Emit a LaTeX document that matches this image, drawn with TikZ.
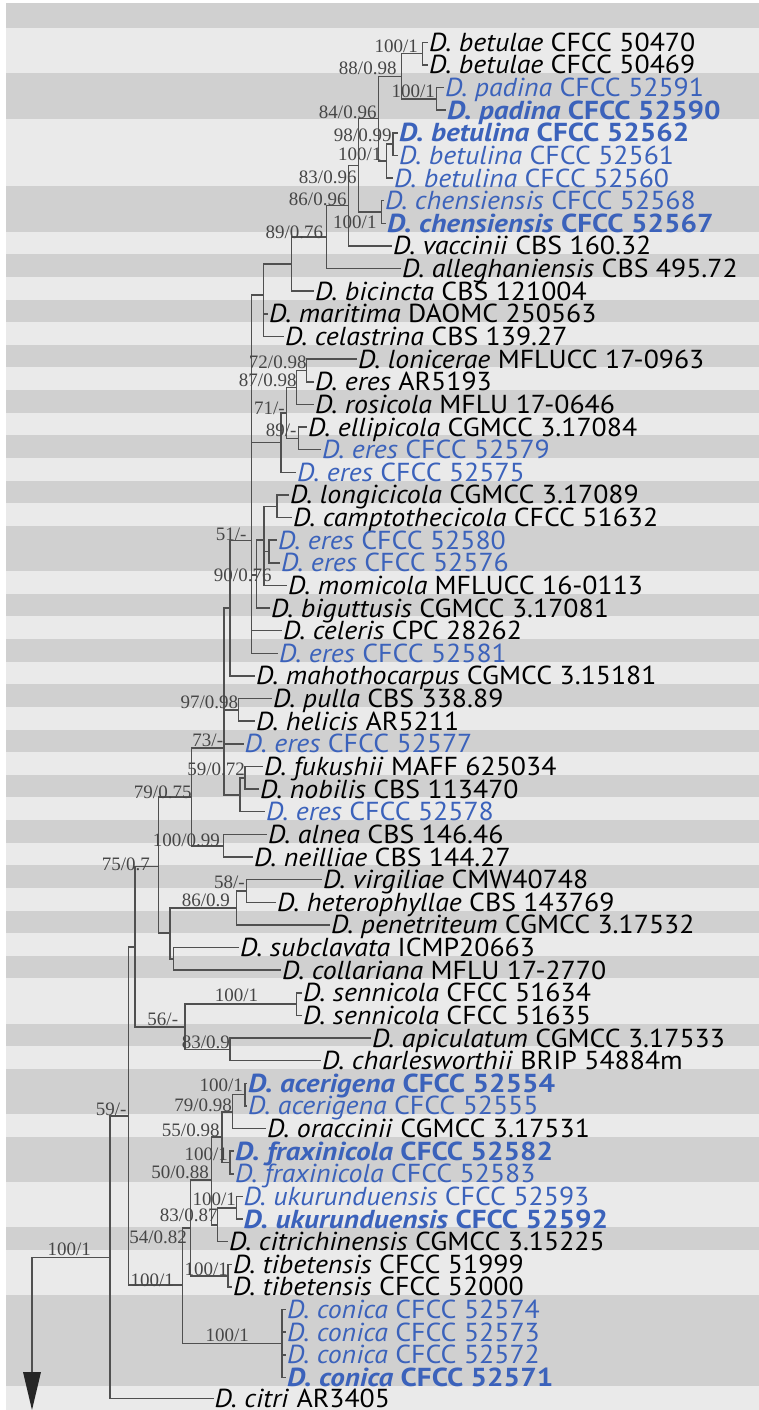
\documentclass[tikz,border=0pt]{standalone}
\usepackage{fontspec}
\setmainfont{PT Sans}[FakeStretch=1.07, BoldFeatures={FakeStretch=1.12}, BoldItalicFeatures={FakeStretch=1.12}]
\newfontfamily\lblfont{Liberation Serif}
\definecolor{stripeL}{RGB}{234,234,234}
\definecolor{stripeD}{RGB}{208,208,208}
\definecolor{txblue}{RGB}{59,98,187}
\definecolor{brc}{RGB}{80,80,80}
\definecolor{lblc}{RGB}{70,70,70}
\newcommand\tn[2]{\textit{#1} #2}
\newcommand\tb[2]{\textbf{\textit{#1} #2}}
\def\ry#1{(31+22.63*(#1-0.5))}
\tikzset{
  tip/.style={anchor=west, inner xsep=1pt, inner ysep=0pt, text height=18pt, text depth=0pt, font=\fontsize{26}{26}\selectfont, text=black},
  tipblue/.style={tip, text=txblue},
  lbl/.style={anchor=base east, inner sep=0pt, font=\lblfont\fontsize{19}{19}\selectfont, text=lblc},
  br/.style={draw=brc, line width=1.5pt}
}
\begin{document}
\begin{tikzpicture}[x=1pt,y=-1pt]
\useasboundingbox (0,0) rectangle (759,1410);
% background stripes
\fill[white] (0,0) rectangle (759,1410);
\fill[stripeL] (6,3) rectangle (759,1410);
\fill[stripeD] (6,3) rectangle (759,28);
\foreach \i in {3,4,8,9,11,13,15,17,19,21,23,24,26,28,30,32,34,36,38,40,42,45,47,48,50,51,54,57,58,59,60}
  \fill[stripeD] (6,{28+22.63*(\i-1)}) rectangle (759,{28+22.63*\i});

% tips
\node[tip] (t1) at (428,{\ry{1}}) {\tn{D. betulae}{CFCC 50470}};
\node[tip] (t2) at (428,{\ry{2}}) {\tn{D. betulae}{CFCC 50469}};
\node[tipblue] (t3) at (444,{\ry{3}}) {\tn{D. padina}{CFCC 52591}};
\node[tipblue] (t4) at (446,{\ry{4}}) {\tb{D. padina}{CFCC 52590}};
\node[tipblue] (t5) at (398,{\ry{5}}) {\tb{D. betulina}{CFCC 52562}};
\node[tipblue] (t6) at (398,{\ry{6}}) {\tn{D. betulina}{CFCC 52561}};
\node[tipblue] (t7) at (393,{\ry{7}}) {\tn{D. betulina}{CFCC 52560}};
\node[tipblue] (t8) at (384,{\ry{8}}) {\tn{D. chensiensis}{CFCC 52568}};
\node[tipblue] (t9) at (386,{\ry{9}}) {\tb{D. chensiensis}{CFCC 52567}};
\node[tip] (t10) at (392,{\ry{10}}) {\tn{D. vaccinii}{CBS 160.32}};
\node[tip] (t11) at (401,{\ry{11}}) {\tn{D. alleghaniensis}{CBS 495.72}};
\node[tip] (t12) at (314,{\ry{12}}) {\tn{D. bicincta}{CBS 121004}};
\node[tip] (t13) at (268,{\ry{13}}) {\tn{D. maritima}{DAOMC 250563}};
\node[tip] (t14) at (284,{\ry{14}}) {\tn{D. celastrina}{CBS 139.27}};
\node[tip] (t15) at (357,{\ry{15}}) {\tn{D. lonicerae}{MFLUCC 17-0963}};
\node[tip] (t16) at (314,{\ry{16}}) {\tn{D. eres}{AR5193}};
\node[tip] (t17) at (314,{\ry{17}}) {\tn{D. rosicola}{MFLU 17-0646}};
\node[tip] (t18) at (307,{\ry{18}}) {\tn{D. ellipicola}{CGMCC 3.17084}};
\node[tipblue] (t19) at (321,{\ry{19}}) {\tn{D. eres}{CFCC 52579}};
\node[tipblue] (t20) at (296,{\ry{20}}) {\tn{D. eres}{CFCC 52575}};
\node[tip] (t21) at (289,{\ry{21}}) {\tn{D. longicicola}{CGMCC 3.17089}};
\node[tip] (t22) at (292,{\ry{22}}) {\tn{D. camptothecicola}{CFCC 51632}};
\node[tipblue] (t23) at (277,{\ry{23}}) {\tn{D. eres}{CFCC 52580}};
\node[tipblue] (t24) at (280,{\ry{24}}) {\tn{D. eres}{CFCC 52576}};
\node[tip] (t25) at (287,{\ry{25}}) {\tn{D. momicola}{MFLUCC 16-0113}};
\node[tip] (t26) at (270,{\ry{26}}) {\tn{D. biguttusis}{CGMCC 3.17081}};
\node[tip] (t27) at (282,{\ry{27}}) {\tn{D. celeris}{CPC 28262}};
\node[tipblue] (t28) at (278,{\ry{28}}) {\tn{D. eres}{CFCC 52581}};
\node[tip] (t29) at (255,{\ry{29}}) {\tn{D. mahothocarpus}{CGMCC 3.15181}};
\node[tip] (t30) at (272,{\ry{30}}) {\tn{D. pulla}{CBS 338.89}};
\node[tip] (t31) at (255,{\ry{31}}) {\tn{D. helicis}{AR5211}};
\node[tipblue] (t32) at (243.5,{\ry{32}}) {\tn{D. eres}{CFCC 52577}};
\node[tip] (t33) at (263,{\ry{33}}) {\tn{D. fukushii}{MAFF 625034}};
\node[tip] (t34) at (259,{\ry{34}}) {\tn{D. nobilis}{CBS 113470}};
\node[tipblue] (t35) at (265,{\ry{35}}) {\tn{D. eres}{CFCC 52578}};
\node[tip] (t36) at (267,{\ry{36}}) {\tn{D. alnea}{CBS 146.46}};
\node[tip] (t37) at (253,{\ry{37}}) {\tn{D. neilliae}{CBS 144.27}};
\node[tip] (t38) at (322,{\ry{38}}) {\tn{D. virgiliae}{CMW40748}};
\node[tip] (t39) at (276,{\ry{39}}) {\tn{D. heterophyllae}{CBS 143769}};
\node[tip] (t40) at (330,{\ry{40}}) {\tn{D. penetriteum}{CGMCC 3.17532}};
\node[tip] (t41) at (239,{\ry{41}}) {\tn{D. subclavata}{ICMP20663}};
\node[tip] (t42) at (281,{\ry{42}}) {\tn{D. collariana}{MFLU 17-2770}};
\node[tip] (t43) at (302,{\ry{43}}) {\tn{D. sennicola}{CFCC 51634}};
\node[tip] (t44) at (302,{\ry{44}}) {\tn{D. sennicola}{CFCC 51635}};
\node[tip] (t45) at (371,{\ry{45}}) {\tn{D. apiculatum}{CGMCC 3.17533}};
\node[tip] (t46) at (321,{\ry{46}}) {\tn{D. charlesworthii}{BRIP 54884m}};
\node[tipblue] (t47) at (247,{\ry{47}}) {\tb{D. acerigena}{CFCC 52554}};
\node[tipblue] (t48) at (247,{\ry{48}}) {\tn{D. acerigena}{CFCC 52555}};
\node[tip] (t49) at (266,{\ry{49}}) {\tn{D. oraccinii}{CGMCC 3.17531}};
\node[tipblue] (t50) at (234,{\ry{50}}) {\tb{D. fraxinicola}{CFCC 52582}};
\node[tipblue] (t51) at (234,{\ry{51}}) {\tn{D. fraxinicola}{CFCC 52583}};
\node[tipblue] (t52) at (242.5,{\ry{52}}) {\tn{D. ukurunduensis}{CFCC 52593}};
\node[tipblue] (t53) at (242.5,{\ry{53}}) {\tb{D. ukurunduensis}{CFCC 52592}};
\node[tip] (t54) at (228,{\ry{54}}) {\tn{D. citrichinensis}{CGMCC 3.15225}};
\node[tip] (t55) at (232,{\ry{55}}) {\tn{D. tibetensis}{CFCC 51999}};
\node[tip] (t56) at (232,{\ry{56}}) {\tn{D. tibetensis}{CFCC 52000}};
\node[tipblue] (t57) at (286,{\ry{57}}) {\tn{D. conica}{CFCC 52574}};
\node[tipblue] (t58) at (286,{\ry{58}}) {\tn{D. conica}{CFCC 52573}};
\node[tipblue] (t59) at (286,{\ry{59}}) {\tn{D. conica}{CFCC 52572}};
\node[tipblue] (t60) at (286,{\ry{60}}) {\tb{D. conica}{CFCC 52571}};
\node[tip] (t61) at (213.5,{\ry{61}-1.5}) {\tn{D. citri}{AR3405}};

% internal nodes
\coordinate (n1) at (422.7,53.7);
\coordinate (n2) at (436.7,98.9);
\coordinate (n3) at (401.7,76.3);
\coordinate (n6) at (393,144.2);
\coordinate (n5) at (386.7,161.1);
\coordinate (n4) at (378.3,118.7);
\coordinate (n7) at (381.7,212);
\coordinate (n8) at (358.3,165.4);
\coordinate (n9) at (348.3,205.7);
\coordinate (n10) at (326.7,237.2);
\coordinate (n11) at (291.7,264.2);
\coordinate (n12) at (263.3,295);
\coordinate (n14) at (306.7,370.5);
\coordinate (n15) at (296.7,387.5);
\coordinate (n17) at (298.3,438.4);
\coordinate (n16) at (286.7,413);
\coordinate (n18) at (281,442.7);
\coordinate (n19) at (277,506.3);
\coordinate (n22) at (269,551.5);
\coordinate (n21) at (264,540);
\coordinate (n24) at (256.7,575);
\coordinate (n26) at (251.5,540.7);
\coordinate (n27) at (230,608);
\coordinate (n28) at (238.3,710);
\coordinate (n29) at (245,778);
\coordinate (n30) at (240,795);
\coordinate (n31) at (224,748);
\coordinate (n33) at (223.3,845.8);
\coordinate (n32) at (191.7,797);
\coordinate (n38) at (246.7,891);
\coordinate (n36) at (236.7,908);
\coordinate (n37) at (173.3,959);
\coordinate (n35) at (170,933);
\coordinate (n34) at (158.3,866.7);
\coordinate (n41) at (296.7,1004.2);
\coordinate (n42) at (230,1049.5);
\coordinate (n40) at (185,1027);
\coordinate (n39) at (135,946.8);
\coordinate (n53) at (245,1094.7);
\coordinate (n54) at (232.4,1112);
\coordinate (n50) at (230,1162.7);
\coordinate (n55) at (221.8,1137);
\coordinate (n48) at (236.3,1208);
\coordinate (n49) at (217.7,1225);
\coordinate (n51) at (211.4,1180);
\coordinate (n47) at (228,1276);
\coordinate (n52) at (190.7,1228);
\coordinate (n46) at (282,1343.7);
\coordinate (n44) at (182.4,1285);
\coordinate (n43) at (128.3,1115.8);
\coordinate (n45) at (110,1257.7);
\coordinate (rc) at (32,1257.7);
\coordinate (ab) at (32,1372);
\coordinate (at) at (32,1410);

% edges
\foreach \p/\c in {n1/t1.west, n1/t2.west, n2/t3.west, n2/t4.west, n3/n1, n3/n2,
  n6/t5.west, n6/t6.west, n5/n6, n5/t7.west, n4/n3, n4/n5, n7/t8.west, n7/t9.west,
  n8/n4, n8/n7, n9/n8, n9/t10.west, n10/n9, n10/t11.west, n11/n10, n11/t12.west,
  n12/n11, n12/t13.west, n12/t14.west,
  n14/t15.west, n14/t16.west, n15/n14, n15/t17.west, n17/t18.west, n17/t19.west,
  n16/n15, n16/n17, n18/n16, n18/t20.west, n19/t21.west, n19/t22.west,
  n22/t23.west, n22/t24.west, n21/n19, n21/n22, n21/t25.west, n24/n21, n24/t26.west,
  n26/n12, n26/n18, n26/n24, n26/t27.west, n26/t28.west, n27/n26, n27/t29.west,
  n28/t30.west, n28/t31.west, n29/t33.west, n29/t34.west, n30/n29, n30/t35.west,
  n31/n27, n31/n28, n31/t32.west, n31/n30, n33/t36.west, n33/t37.west, n32/n31, n32/n33,
  n38/t38.west, n38/t39.west, n36/n38, n36/t40.west, n37/t41.west, n37/t42.west,
  n35/n36, n35/n37, n34/n32, n34/n35, n41/t43.west, n41/t44.west, n42/t45.west, n42/t46.west,
  n40/n41, n40/n42, n39/n34, n39/n40,
  n53/t47.west, n53/t48.west, n54/n53, n54/t49.west, n50/t50.west, n50/t51.west,
  n55/n54, n55/n50, n48/t52.west, n48/t53.west, n49/n48, n49/t54.west, n51/n55, n51/n49,
  n47/t55.west, n47/t56.west, n52/n51, n52/n47,
  n46/t57.west, n46/t58.west, n46/t59.west, n46/t60.west, n44/n52, n44/n46,
  n43/n39, n43/n44, n45/n43, n45/t61.west}
  \draw[br] (\p) |- (\c);
\draw[br] (n45) -- (rc) -- (ab);
\fill[black!85] (23,1372) -- (41,1372) -- (at) -- cycle;

% support labels
\node[lbl] at (418,53) {100/1};
\node[lbl] at (396.7,75) {88/0.98};
\node[lbl] at (435,98) {100/1};
\node[lbl] at (376.7,118) {84/0.96};
\node[lbl] at (391.7,141.7) {98/0.99};
\node[lbl] at (381.7,160) {100/1};
\node[lbl] at (356.7,183) {83/0.96};
\node[lbl] at (346.7,205) {86/0.96};
\node[lbl] at (376.7,228) {100/1};
\node[lbl] at (323.3,238) {89/0.76};
\node[lbl] at (306.7,368.3) {72/0.98};
\node[lbl] at (296.7,386.7) {87/0.98};
\node[lbl] at (285,414) {71/-};
\node[lbl] at (296.7,436.7) {89/-};
\node[lbl] at (246.7,540) {51/-};
\node[lbl] at (271.7,581.7) {90/0.76};
\node[lbl] at (238.3,708.3) {97/0.98};
\node[lbl] at (223.3,746.7) {73/-};
\node[lbl] at (245,775) {59/0.72};
\node[lbl] at (191.7,798.3) {79/0.75};
\node[lbl] at (220,846.7) {100/0.99};
\node[lbl] at (150,870) {75/0.7};
\node[lbl] at (245,888.3) {58/-};
\node[lbl] at (230,906.7) {86/0.9};
\node[lbl] at (258.3,1001.7) {100/1};
\node[lbl] at (178.3,1025) {56/-};
\node[lbl] at (230,1048.3) {83/0.9};
\node[lbl] at (243,1091.7) {100/1};
\node[lbl] at (232,1111.7) {79/0.98};
\node[lbl] at (219.7,1136.7) {55/0.98};
\node[lbl] at (126.7,1115) {59/-};
\node[lbl] at (228,1160) {100/1};
\node[lbl] at (209,1178) {50/0.88};
\node[lbl] at (236,1205) {100/1};
\node[lbl] at (217.7,1221.7) {83/0.87};
\node[lbl] at (187,1243) {54/0.82};
\node[lbl] at (91,1255) {100/1};
\node[lbl] at (228,1275) {100/1};
\node[lbl] at (174,1286.7) {100/1};
\node[lbl] at (249,1341.7) {100/1};
\end{tikzpicture}
\end{document}
